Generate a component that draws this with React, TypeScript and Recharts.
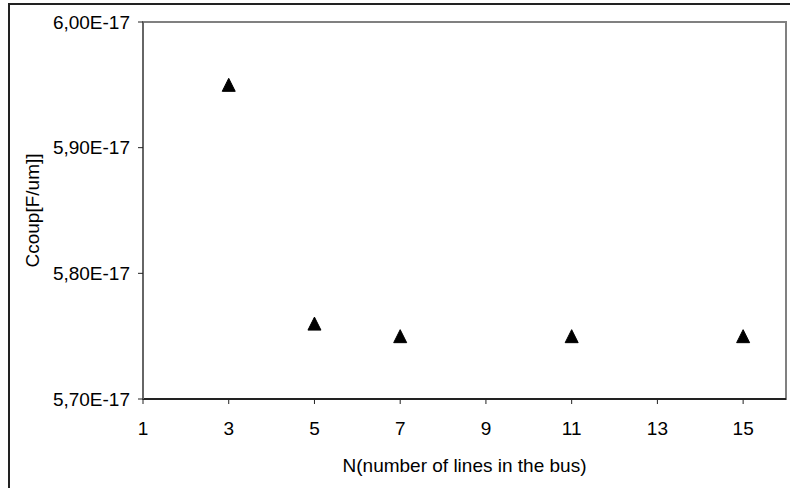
import React from "react";
import { ScatterChart, Scatter, XAxis, YAxis, ReferenceArea } from "recharts";

const linesInBus = [3, 5, 7, 11, 15];
const ccoupValues = [5.95e-17, 5.76e-17, 5.75e-17, 5.75e-17, 5.75e-17];
const xTicks = [1, 3, 5, 7, 9, 11, 13, 15];
const yTicks = [5.7e-17, 5.8e-17, 5.9e-17, 6.0e-17];
const xDomain = [1, 16];
const yDomain = [5.7e-17, 6.0e-17];

const data = linesInBus.map((n, i) => ({ n, c: ccoupValues[i] }));

const FONT = "'Liberation Sans', Arial, sans-serif";

const fmtY = (v: number) =>
  (v / 1e-17).toFixed(2).replace(".", ",") + "E-17";

const Triangle = (props: any) => {
  const { cx, cy } = props;
  if (cx == null || cy == null) return null;
  const h = 6.5;
  return (
    <path
      d={`M${cx},${cy - h} L${cx + h},${cy + h} L${cx - h},${cy + h} Z`}
      fill="#000"
      stroke="#000"
      strokeWidth={1}
      strokeLinejoin="round"
    />
  );
};

export default function App() {
  return (
    <div
      style={{
        position: "absolute",
        left: 0,
        top: 0,
        width: 790,
        height: 488,
        overflow: "hidden",
        background: "#fff",
      }}
    >
      <div
        style={{
          position: "absolute",
          left: 8,
          top: 3,
          width: 900,
          height: 600,
          border: "2px solid #222",
          boxSizing: "border-box",
        }}
      />
      <div style={{ position: "absolute", left: 0, top: 0 }}>
        <ScatterChart
          width={790}
          height={488}
          margin={{ top: 22, right: 4, left: 0, bottom: 0 }}
          style={{ fontFamily: FONT }}
        >
          <ReferenceArea
            x1={xDomain[0]}
            x2={xDomain[1]}
            y1={yDomain[0]}
            y2={yDomain[1]}
            fill="none"
            stroke="#808080"
            strokeWidth={2}
            ifOverflow="visible"
          />
          <XAxis
            type="number"
            dataKey="n"
            domain={xDomain}
            ticks={xTicks}
            height={89}
            tickSize={5}
            tickMargin={18}
            axisLine={{ stroke: "#222", strokeWidth: 2 }}
            tickLine={{ stroke: "#222", strokeWidth: 1 }}
            tick={{ fill: "#000", fontSize: 19, fontFamily: FONT }}
            interval={0}
            label={{
              value: "N(number of lines in the bus)",
              position: "center",
              dy: 22,
              fill: "#000",
              fontSize: 19,
              fontFamily: FONT,
            }}
          />
          <YAxis
            type="number"
            dataKey="c"
            domain={yDomain}
            ticks={yTicks}
            width={143}
            tickSize={5}
            tickMargin={8}
            tickFormatter={fmtY}
            axisLine={{ stroke: "#666", strokeWidth: 2 }}
            tickLine={{ stroke: "#222", strokeWidth: 1 }}
            tick={{ fill: "#000", fontSize: 19, fontFamily: FONT }}
            interval={0}
            label={{
              value: "Ccoup[F/um]]",
              angle: -90,
              position: "center",
              dx: -39,
              fill: "#000",
              fontSize: 19,
              fontFamily: FONT,
            }}
          />
          <Scatter
            data={data}
            fill="#000"
            shape={<Triangle />}
            isAnimationActive={false}
          />
        </ScatterChart>
      </div>
    </div>
  );
}
